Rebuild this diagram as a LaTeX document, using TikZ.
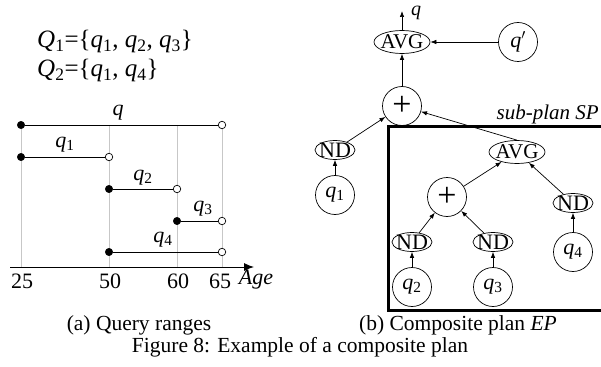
\documentclass[tikz,border=0pt]{standalone}
\usepackage{fontspec}
\setmainfont{Liberation Serif}
\usetikzlibrary{shapes.geometric,arrows.meta}
\newcommand{\myq}[1]{\textit{q}\textsubscript{#1}}
\begin{document}
\begin{tikzpicture}[x=1pt,y=-1pt,
  ell/.style={ellipse,draw,line width=0.7pt,inner sep=-6pt,font=\fontsize{21}{21}\selectfont},
  avg/.style={ell,minimum width=56pt,minimum height=23pt},
  nd/.style={ell,minimum width=40pt,minimum height=19pt,font=\fontsize{22}{22}\selectfont},
  cir/.style={circle,draw,line width=0.7pt,minimum size=39pt,inner sep=0pt,font=\fontsize{22}{22}\selectfont},
  plus/.style={cir,font=\fontsize{34}{34}\selectfont},
  arr/.style={-{Latex[length=6pt,width=4.5pt]},line width=0.7pt},
  fdot/.style={circle,fill=black,draw=black,minimum size=7.5pt,inner sep=0pt},
  odot/.style={circle,fill=white,draw=black,line width=0.7pt,minimum size=7.5pt,inner sep=0pt},
  rng/.style={line width=0.8pt},
  gridln/.style={draw=black!22,line width=0.9pt},
  lbl/.style={font=\fontsize{22}{22}\selectfont,inner sep=0pt},
  captxt/.style={font=\fontsize{21.5}{24}\selectfont,inner sep=0pt}]
\useasboundingbox (0,0) rectangle (601,366);

% ---------- (a) query ranges ----------
\node[anchor=base west,inner sep=0pt,font=\fontsize{25}{29}\selectfont] (Q1) at (37,48)
  {\textit{Q}\textsubscript{1}=\{\myq1, \myq2, \myq3\}};
\node[anchor=base west,inner sep=0pt,font=\fontsize{25}{29}\selectfont] (Q2) at (37,77)
  {\textit{Q}\textsubscript{2}=\{\myq1, \myq4\}};

\coordinate (t25) at (21,267);
\coordinate (t50) at (109,267);
\coordinate (t60) at (177,267);
\coordinate (t65) at (222,267);
\coordinate (g50) at (109,125);
\coordinate (g60) at (177,125);
\coordinate (ax0) at (10,267);
\coordinate (ax1) at (254,267);

\draw[gridln] (g50) -- (t50);
\draw[gridln] (g60) -- (t60);
\draw[gridln] (21,125) -- (t25);
\draw[gridln] (222,125) -- (t65);

\draw[line width=0.9pt,-{Latex[length=10pt,width=8pt]}] (ax0) -- (ax1);

\node[fdot] (s0) at (21,125) {};
\node[odot] (e0) at (222,125) {};
\node[fdot] (s1) at (21,157) {};
\node[odot] (e1) at (109,157) {};
\node[fdot] (s2) at (109,189) {};
\node[odot] (e2) at (177,189) {};
\node[fdot] (s3) at (177,221) {};
\node[odot] (e3) at (222,221) {};
\node[fdot] (s4) at (109,252) {};
\node[odot] (e4) at (222,252) {};
\draw[rng] (s0) -- (e0);
\draw[rng] (s1) -- (e1);
\draw[rng] (s2) -- (e2);
\draw[rng] (s3) -- (e3);
\draw[rng] (s4) -- (e4);

\node[lbl] (lq) at (118,113) {\textit{q}};
\node[lbl] (lq1) at (65,145) {\myq1};
\node[lbl] (lq2) at (143,178) {\myq2};
\node[lbl] (lq3) at (203,209) {\myq3};
\node[lbl] (lq4) at (163,240) {\myq4};

\node[lbl] (n25) at (22,281) {25};
\node[lbl] (n50) at (110,281) {50};
\node[lbl] (n60) at (178,281) {60};
\node[lbl] (n65) at (220,281) {65};
\node[lbl] (nage) at (256,280) {\textit{Age}};

\node[captxt] (capa) at (139,325) {(a) Query ranges};
\node[captxt] (capb) at (458,325) {(b) Composite plan \textit{EP}};
\node[captxt] (capf) at (300,347) {Figure 8: Example of a composite plan};

% ---------- (b) composite plan ----------
\draw[line width=3pt] (604,127) -- (388,127) -- (388,310) -- (604,310);
\node[anchor=base east,inner sep=0pt,font=\fontsize{21}{21}\selectfont] (sp) at (599,120) {\textit{sub-plan SP}};

\node[avg] (A1) at (402,42) {AVG};
\node[cir] (qp) at (518,42) {\textit{q}$'$};
\node[plus] (P1) at (402,106) {+};
\node[nd] (N1) at (335,150) {ND};
\node[cir] (c1) at (335,195) {\myq1};
\coordinate (qout) at (402,11);
\node[anchor=base west,inner sep=0pt,font=\fontsize{20}{20}\selectfont] (qtop) at (411,16) {\textit{q}};

\node[avg] (A2) at (517,152) {AVG};
\node[plus] (P2) at (447,197) {+};
\node[nd] (N2) at (412,242) {ND};
\node[nd] (N3) at (493,242) {ND};
\node[nd] (N4) at (573,203) {ND};
\node[cir] (c2) at (412,287) {\myq2};
\node[cir] (c3) at (493,287) {\myq3};
\node[cir] (c4) at (573,252) {\myq4};

\draw[arr] (A1) -- (qout);
\draw[arr] (qp) -- (A1);
\draw[arr] (P1) -- (A1);
\draw[arr] (N1) -- (P1);
\draw[arr] (c1) -- (N1);
\draw[arr] (A2.north) -- (P1);
\draw[arr] (P2) -- (A2);
\draw[arr] (N2) -- (P2);
\draw[arr] (N3) -- (P2);
\draw[arr] (c2) -- (N2);
\draw[arr] (c3) -- (N3);
\draw[arr] (N4) -- (A2);
\draw[arr] (c4) -- (N4);
\end{tikzpicture}
\end{document}
